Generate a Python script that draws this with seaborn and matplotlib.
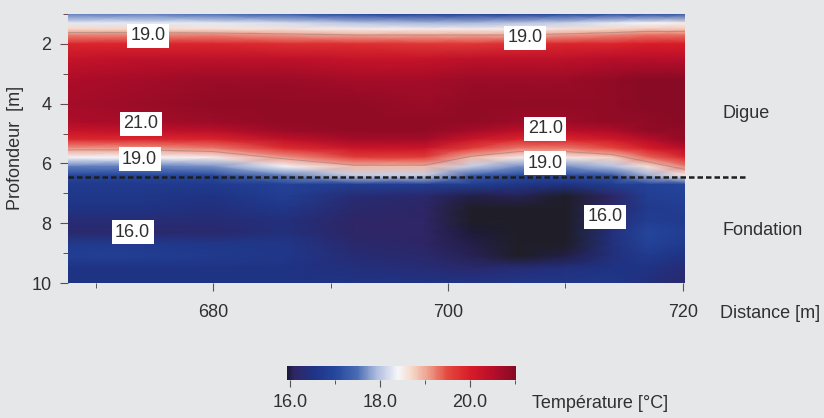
import matplotlib
matplotlib.use('Agg')

import matplotlib.pyplot as plt
import numpy as np
import seaborn as sns
from matplotlib.colors import LinearSegmentedColormap, Normalize
from matplotlib.ticker import MultipleLocator, FormatStrFormatter


# profile positions (m) and depths (m)
distance = [667.6, 674, 680, 686, 692, 698, 702, 706, 710, 714, 717, 720.2]
depth = [1.0, 1.3, 1.5, 1.7, 2.0, 2.5, 3.2, 4.0, 4.6, 4.9, 5.2, 5.5,
         5.8, 6.1, 6.4, 6.7, 7.1, 7.5, 7.9, 8.3, 8.7, 9.1, 9.5, 10.0]

# temperature (°C), one row per depth, one column per distance
temperature = [
    [17.6, 17.6, 17.5, 17.3, 17.0, 16.9, 16.9, 16.9, 17.0, 17.1, 17.1, 17.2],
    [18.3, 18.3, 18.3, 18.2, 18.0, 17.9, 17.9, 18.0, 18.1, 18.3, 18.4, 18.5],
    [18.7, 18.7, 18.6, 18.6, 18.5, 18.5, 18.5, 18.5, 18.6, 18.7, 18.8, 18.8],
    [19.2, 19.2, 19.2, 19.1, 19.0, 19.0, 19.0, 19.0, 19.1, 19.2, 19.3, 19.3],
    [19.9, 19.9, 19.9, 19.8, 19.8, 19.7, 19.7, 19.8, 19.9, 19.9, 20.0, 20.0],
    [20.3, 20.4, 20.4, 20.4, 20.3, 20.3, 20.4, 20.4, 20.4, 20.5, 20.5, 20.5],
    [20.6, 20.7, 20.8, 20.8, 20.7, 20.7, 20.8, 20.8, 20.8, 20.9, 21.0, 21.0],
    [20.7, 20.8, 20.9, 20.9, 20.9, 20.8, 20.9, 20.9, 20.9, 20.9, 21.0, 21.0],
    [20.6, 20.7, 20.8, 20.9, 20.9, 20.9, 20.9, 20.8, 20.8, 20.9, 20.9, 21.0],
    [20.3, 20.35, 20.45, 20.8, 20.9, 20.9, 20.7, 20.45, 20.45, 20.6, 20.9, 20.9],
    [19.85, 19.85, 19.9, 20.35, 20.7, 20.7, 20.2, 19.9, 19.9, 20.1, 20.5, 20.9],
    [19.1, 19.1, 19.25, 19.8, 20.2, 20.2, 19.6, 19.25, 19.25, 19.5, 20.0, 20.45],
    [18.4, 18.4, 18.5, 19.1, 19.6, 19.6, 18.9, 18.5, 18.5, 18.75, 19.35, 19.9],
    [17.6, 17.6, 17.7, 18.4, 18.9, 18.9, 18.1, 17.7, 17.7, 18.0, 18.6, 19.25],
    [17.0, 17.0, 17.05, 17.6, 18.1, 18.1, 17.3, 17.05, 17.05, 17.2, 17.85, 18.5],
    [16.7, 16.7, 16.7, 16.9, 16.8, 16.8, 16.8, 16.6, 16.5, 16.8, 16.9, 17.0],
    [16.6, 16.6, 16.5, 16.8, 16.3, 16.2, 16.0, 16.05, 15.8, 16.1, 16.8, 16.9],
    [16.5, 16.5, 16.4, 16.6, 16.2, 16.1, 15.9, 15.75, 15.75, 16.2, 16.7, 16.8],
    [16.3, 16.3, 16.3, 16.4, 16.1, 16.1, 15.9, 15.7, 15.8, 16.3, 16.8, 16.7],
    [16.2, 16.2, 16.2, 16.4, 16.1, 16.1, 15.95, 15.7, 15.85, 16.4, 17.0, 16.8],
    [16.7, 16.7, 16.6, 16.6, 16.2, 16.1, 16.0, 15.8, 15.9, 16.4, 16.9, 16.7],
    [16.8, 16.8, 16.7, 16.6, 16.3, 16.2, 16.05, 15.9, 16.0, 16.4, 16.7, 16.5],
    [16.5, 16.5, 16.5, 16.5, 16.4, 16.3, 16.2, 16.3, 16.4, 16.5, 16.5, 16.3],
    [16.5, 16.5, 16.5, 16.5, 16.5, 16.5, 16.5, 16.6, 16.6, 16.6, 16.4, 16.2],
]

# isotherm labels
label_text = ['19.0', '19.0', '21.0', '21.0', '19.0', '19.0', '16.0', '16.0']
label_x = [674.4, 706.6, 673.8, 708.3, 673.7, 708.3, 673.1, 713.4]
label_depth = [1.73, 1.8, 4.67, 4.84, 5.85, 5.99, 8.3, 7.78]

interface_depth = 6.44
interface_end = 725.4

T_MIN, T_MAX = 15.94, 21.02
cmap_temps = [15.94, 16.1, 16.5, 17.0, 17.5, 17.9, 18.4, 18.7, 19.1, 19.5, 20.0, 20.5, 21.02]
cmap_colors = ['#1c1b38', '#2e2666', '#1f3384', '#24469c', '#4a6cb4', '#a9b8dc', '#f6f6fa',
               '#f5dacb', '#ee9a88', '#e4493f', '#d81c28', '#b80e2a', '#860a24']

BG = '#e6e7e9'
TXT = '#303030'

sns.set_theme(style='white', rc={'figure.facecolor': BG, 'axes.facecolor': BG})
plt.rcParams['font.family'] = ['Liberation Sans', 'DejaVu Sans']

nodes = [(t - T_MIN) / (T_MAX - T_MIN) for t in cmap_temps]
cmap = LinearSegmentedColormap.from_list('temp', list(zip(nodes, cmap_colors)))
cmap.set_under('#1f1e28')
norm = Normalize(vmin=T_MIN, vmax=T_MAX)

fig = plt.figure(figsize=(8.24, 4.18), dpi=100)
ax = fig.add_axes([68 / 824, 1 - 283 / 418, 617 / 824, 269.5 / 418])

T = np.array(temperature)
mesh = ax.pcolormesh(distance, depth, T, shading='gouraud', cmap=cmap, norm=norm)
ax.contour(distance, depth, T, levels=[19.0], colors='#8c7b74', linewidths=0.8, alpha=0.5)

for txt, x, d in zip(label_text, label_x, label_depth):
    ax.text(x, d, txt, ha='center', va='center', fontsize=13, color=TXT,
            bbox=dict(facecolor='white', edgecolor='none', pad=2.5))

ax.plot([distance[0], interface_end], [interface_depth, interface_depth], linestyle='--',
        dashes=(2.2, 1.2), color='#1e1e1e', linewidth=1.8, clip_on=False)

ax.set_xlim(distance[0], distance[-1])
ax.set_ylim(depth[-1], 0.98)
for s in ax.spines.values():
    s.set_visible(False)

ax.xaxis.set_major_locator(MultipleLocator(20))
ax.xaxis.set_minor_locator(MultipleLocator(10))
ax.yaxis.set_major_locator(MultipleLocator(2))
ax.yaxis.set_minor_locator(MultipleLocator(1))
ax.tick_params(axis='x', which='major', length=6, width=0.8, color='#555555', pad=9,
               labelsize=13, labelcolor=TXT, bottom=True)
ax.tick_params(axis='x', which='minor', length=3.5, width=0.7, color='#555555', bottom=True)
ax.tick_params(axis='y', which='major', length=6, width=0.8, color='#6a4a4a', pad=6,
               labelsize=13, labelcolor=TXT, left=True)
ax.tick_params(axis='y', which='minor', length=3.5, width=0.7, color='#6a4a4a', left=True)

ax.set_ylabel('Profondeur  [m]', fontsize=13, color=TXT)
ax.yaxis.set_label_coords(-(69 - 25) / 617, 0.5)

ax.text(723.4, 4.33, 'Digue', ha='left', va='center', fontsize=13, color=TXT, clip_on=False)
ax.text(723.4, 8.25, 'Fondation', ha='left', va='center', fontsize=13, color=TXT, clip_on=False)
fig.text(720 / 824, 1 - 313 / 418, 'Distance [m]', ha='left', va='center', fontsize=13, color=TXT)

cax = fig.add_axes([287 / 824, 1 - 380 / 418, 229 / 824, 14 / 418])
cb = fig.colorbar(mesh, cax=cax, orientation='horizontal')
cb.outline.set_visible(False)
cb.set_ticks([16, 18, 20])
cb.ax.xaxis.set_minor_locator(MultipleLocator(1))
cb.ax.xaxis.set_major_formatter(FormatStrFormatter('%.1f'))
cb.ax.tick_params(which='major', length=5, width=0.8, color='#555555', pad=5,
                  labelsize=13, labelcolor=TXT)
cb.ax.tick_params(which='minor', length=3, width=0.7, color='#555555')
fig.text(532 / 824, 1 - 403 / 418, 'Température [°C]', ha='left', va='center', fontsize=13, color=TXT)

fig.savefig('out.png', dpi=100, facecolor=BG)
